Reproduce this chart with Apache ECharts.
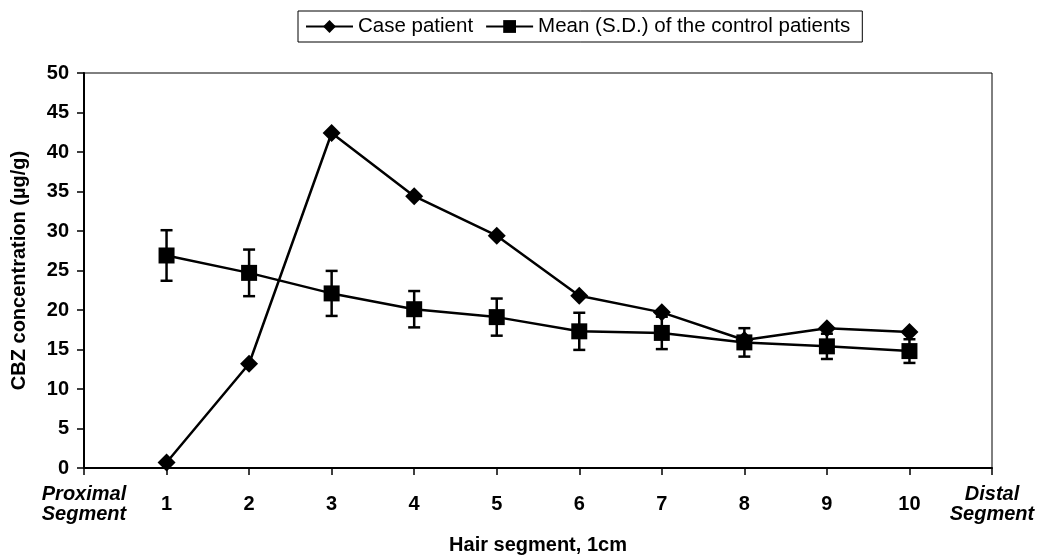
<!DOCTYPE html>
<html>
<head>
<meta charset="utf-8">
<script src="https://cdn.jsdelivr.net/npm/echarts@6/dist/echarts.min.js"></script>
<style>
  html, body { margin: 0; padding: 0; background: #fff; }
  #main { width: 1042px; height: 556px; }
</style>
</head>
<body>
<div id="main"></div>
<script>
// 数据
var segments = ['1', '2', '3', '4', '5', '6', '7', '8', '9', '10'];
var caseValues = [0.7, 13.2, 42.4, 34.4, 29.4, 21.8, 19.7, 16.2, 17.7, 17.2];
var controlMean = [26.9, 24.7, 22.1, 20.1, 19.1, 17.3, 17.1, 15.9, 15.4, 14.8];
var controlSD = [3.2, 2.95, 2.85, 2.3, 2.35, 2.35, 2.05, 1.8, 1.6, 1.5];
var yTicks = { min: 0, max: 50, interval: 5 };

// x轴: 两端加上 Proximal / Distal
var categories = ['Proximal Segment'].concat(segments).concat(['Distal Segment']);
function pad(arr) {
  return ['-'].concat(arr).concat(['-']);
}
var errData = [];
for (var i = 0; i < segments.length; i++) {
  errData.push([i + 1, controlMean[i] - controlSD[i], controlMean[i] + controlSD[i]]);
}

var myChart = echarts.init(document.getElementById('main'));
var font = '"Liberation Sans", Arial, sans-serif';

var option = {
  animation: false,
  backgroundColor: '#fff',
  textStyle: { fontFamily: font, color: '#000' },
  legend: {
    top: 11,
    left: 298,
    data: ['Case patient', 'Mean (S.D.) of the control patients'],
    borderColor: '#000',
    borderWidth: 1,
    padding: [5, 12, 5, 7],
    itemWidth: 47,
    itemHeight: 16,
    itemGap: 12,
    textStyle: { fontFamily: font, fontSize: 20.5, color: '#000' }
  },
  grid: {
    left: 84, right: 50, top: 73, bottom: 88,
    outerBoundsMode: 'none',
    containLabel: false,
    show: true, borderColor: '#000', borderWidth: 1,
    backgroundColor: 'transparent'
  },
  xAxis: {
    type: 'category',
    data: categories,
    boundaryGap: false,
    name: 'Hair segment, 1cm',
    nameLocation: 'middle',
    nameGap: 67,
    nameTextStyle: { fontFamily: font, fontSize: 20, fontWeight: 'bold', color: '#000' },
    axisLine: { lineStyle: { color: '#000', width: 2 } },
    axisTick: { length: 7, lineStyle: { color: '#000', width: 1.5 } },
    axisLabel: {
      interval: 0,
      margin: 16,
      color: '#000',
      formatter: function (v) {
        if (v.indexOf(' ') > 0) {
          return v.split(' ').map(function (s) { return '{it|' + s + '}'; }).join('\n');
        }
        return '{n|' + v + '}';
      },
      rich: {
        n: { fontFamily: font, fontSize: 20, fontWeight: 'bold', color: '#000', lineHeight: 40 },
        it: { fontFamily: font, fontSize: 20, fontWeight: 'bold', fontStyle: 'italic', color: '#000', lineHeight: 20 }
      }
    }
  },
  yAxis: {
    type: 'value',
    min: yTicks.min, max: yTicks.max, interval: yTicks.interval,
    name: 'CBZ concentration (µg/g)',
    nameLocation: 'middle',
    nameGap: 55,
    nameTextStyle: { fontFamily: font, fontSize: 20, fontWeight: 'bold', color: '#000' },
    axisLine: { show: true, lineStyle: { color: '#000', width: 2 } },
    axisTick: { show: true, length: 7, lineStyle: { color: '#000', width: 1.5 } },
    splitLine: { show: false },
    axisLabel: { color: '#000', fontFamily: font, fontSize: 20, fontWeight: 'bold', margin: 15 }
  },
  series: [
    {
      name: 'Mean (S.D.) of the control patients',
      type: 'line',
      data: pad(controlMean),
      symbol: 'rect',
      symbolSize: 16,
      itemStyle: { color: '#000' },
      lineStyle: { color: '#000', width: 2.5 },
      z: 3
    },
    {
      type: 'custom',
      name: 'err',
      data: errData,
      z: 2,
      renderItem: function (params, api) {
        var x = api.value(0);
        var lo = api.coord([x, api.value(1)]);
        var hi = api.coord([x, api.value(2)]);
        var w = 6;
        var st = { stroke: '#000', lineWidth: 2.5 };
        return {
          type: 'group',
          children: [
            { type: 'line', shape: { x1: lo[0], y1: lo[1], x2: hi[0], y2: hi[1] }, style: st },
            { type: 'line', shape: { x1: lo[0] - w, y1: lo[1], x2: lo[0] + w, y2: lo[1] }, style: st },
            { type: 'line', shape: { x1: hi[0] - w, y1: hi[1], x2: hi[0] + w, y2: hi[1] }, style: st }
          ]
        };
      }
    },
    {
      name: 'Case patient',
      type: 'line',
      data: pad(caseValues),
      symbol: 'diamond',
      symbolSize: 18,
      itemStyle: { color: '#000' },
      lineStyle: { color: '#000', width: 2.5 },
      z: 4
    }
  ]
};
myChart.setOption(option);
</script>
</body>
</html>
